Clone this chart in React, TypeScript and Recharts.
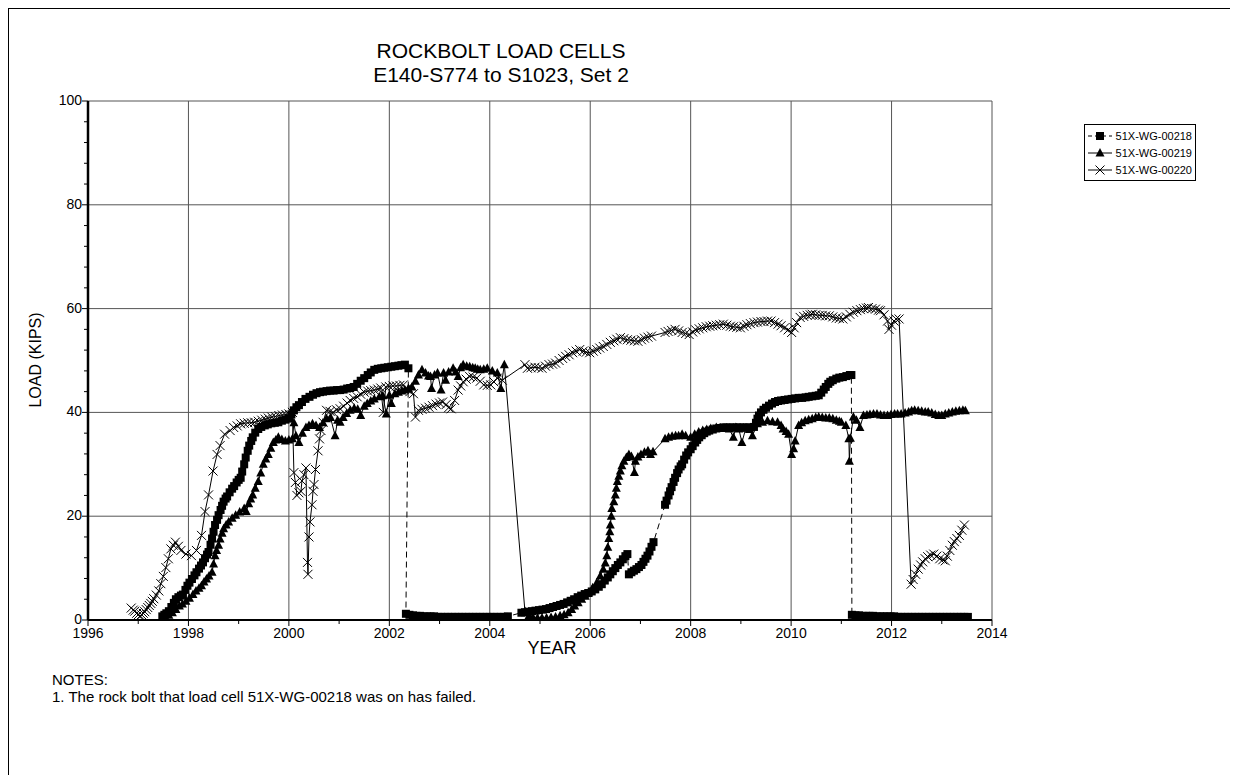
import React from 'react';
import {
    LineChart,
    Line,
    XAxis,
    YAxis,
    CartesianGrid
} from 'recharts';

const FONT = '"Liberation Sans", Arial, Helvetica, sans-serif';

const TITLE_LINES = ['ROCKBOLT LOAD CELLS', 'E140-S774 to S1023, Set 2'];
const NOTES = ['NOTES:', '1.  The rock bolt that load cell 51X-WG-00218 was on has failed.'];
const SERIES_NAMES = ['51X-WG-00218', '51X-WG-00219', '51X-WG-00220'];

// axis ticks: every year / every 4 kips, labels only on the major ones
const YEAR_TICKS = [1996, 1997, 1998, 1999, 2000, 2001, 2002, 2003, 2004, 2005,
    2006, 2007, 2008, 2009, 2010, 2011, 2012, 2013, 2014];
const LOAD_TICKS = [0, 4, 8, 12, 16, 20, 24, 28, 32, 36, 40, 44, 48, 52, 56, 60,
    64, 68, 72, 76, 80, 84, 88, 92, 96, 100];
const GRID_YEARS = [1998, 2000, 2002, 2004, 2006, 2008, 2010, 2012, 2014];
const GRID_LOADS = [20, 40, 60, 80, 100];

// [year, load kips]
const LOAD_218: [number, number][] = [
    [1997.48, 0.7], [1997.52, 1.0], [1997.56, 1.3], [1997.61, 1.7], [1997.66, 2.5], [1997.71, 3.3],
    [1997.75, 4.0], [1997.80, 4.4], [1997.85, 4.7], [1997.89, 4.9], [1997.94, 5.8], [1997.98, 6.6],
    [1998.02, 7.2], [1998.07, 7.9], [1998.12, 8.6], [1998.16, 9.2], [1998.21, 9.9], [1998.25, 10.5],
    [1998.29, 11.1], [1998.33, 11.9], [1998.37, 12.6], [1998.40, 13.1], [1998.44, 14.5], [1998.47, 15.7],
    [1998.50, 17.0], [1998.53, 18.3], [1998.57, 19.3], [1998.60, 20.2], [1998.64, 21.2], [1998.67, 22.0],
    [1998.70, 22.8], [1998.74, 23.4], [1998.77, 23.8], [1998.82, 24.6], [1998.87, 25.3], [1998.91, 25.8],
    [1998.96, 26.5], [1999.00, 27.0], [1999.04, 27.4], [1999.07, 28.6], [1999.11, 30.0], [1999.14, 31.3],
    [1999.18, 32.6], [1999.21, 33.6], [1999.25, 34.5], [1999.28, 35.2], [1999.33, 36.1], [1999.39, 36.8],
    [1999.45, 37.2], [1999.52, 37.5], [1999.58, 37.7], [1999.65, 37.9], [1999.72, 38.0], [1999.79, 38.1],
    [1999.86, 38.4], [1999.93, 38.6], [2000.00, 38.8], [2000.05, 39.6], [2000.10, 40.4], [2000.15, 41.0],
    [2000.20, 41.4], [2000.26, 42.0], [2000.33, 42.6], [2000.41, 43.0], [2000.48, 43.4], [2000.55, 43.7],
    [2000.62, 43.9], [2000.68, 44.0], [2000.75, 44.1], [2000.82, 44.2], [2000.89, 44.2], [2000.96, 44.3],
    [2001.02, 44.3], [2001.09, 44.4], [2001.16, 44.6], [2001.22, 44.7], [2001.29, 44.9], [2001.36, 45.5],
    [2001.43, 46.1], [2001.50, 46.6], [2001.57, 47.2], [2001.63, 47.7], [2001.70, 48.2], [2001.77, 48.4],
    [2001.84, 48.5], [2001.90, 48.6], [2001.97, 48.7], [2002.04, 48.8], [2002.11, 48.9], [2002.18, 49.0],
    [2002.24, 49.1], [2002.31, 49.2], [2002.38, 48.5],
    [2002.33, 1.2], [2002.40, 1.0], [2002.47, 0.9], [2002.54, 0.8], [2002.61, 0.8], [2002.68, 0.7],
    [2002.75, 0.7], [2002.82, 0.7], [2002.89, 0.7], [2002.96, 0.6], [2003.03, 0.6], [2003.10, 0.6],
    [2003.17, 0.6], [2003.24, 0.6], [2003.31, 0.6], [2003.38, 0.6], [2003.45, 0.6], [2003.52, 0.6],
    [2003.59, 0.6], [2003.66, 0.6], [2003.73, 0.6], [2003.80, 0.6], [2003.87, 0.6], [2003.94, 0.6],
    [2004.01, 0.6], [2004.08, 0.6], [2004.15, 0.6], [2004.22, 0.6], [2004.29, 0.6], [2004.36, 0.7],
    [2004.63, 1.4], [2004.70, 1.5], [2004.77, 1.6], [2004.84, 1.7], [2004.91, 1.8], [2004.98, 1.9],
    [2005.05, 2.0], [2005.12, 2.1], [2005.19, 2.3], [2005.26, 2.5], [2005.33, 2.7], [2005.40, 2.9],
    [2005.47, 3.1], [2005.54, 3.4], [2005.61, 3.7], [2005.68, 4.0], [2005.75, 4.4], [2005.82, 4.7],
    [2005.89, 5.0], [2005.96, 5.2], [2006.03, 5.5], [2006.10, 5.9], [2006.17, 6.4], [2006.23, 6.9],
    [2006.29, 7.6], [2006.35, 8.2], [2006.40, 8.8], [2006.45, 9.4], [2006.50, 10.0], [2006.55, 10.6],
    [2006.60, 11.1], [2006.65, 11.7], [2006.70, 12.3], [2006.74, 12.7],
    [2006.77, 8.8], [2006.82, 9.2], [2006.87, 9.5], [2006.92, 9.8], [2006.97, 10.2], [2007.02, 10.6],
    [2007.06, 11.2], [2007.10, 11.8], [2007.14, 12.4], [2007.18, 13.2], [2007.22, 14.1], [2007.26, 15.0],
    [2007.49, 22.2], [2007.52, 23.0], [2007.56, 24.0], [2007.59, 24.8], [2007.62, 25.6], [2007.66, 26.6],
    [2007.69, 27.4], [2007.73, 28.3], [2007.76, 29.0], [2007.80, 29.6], [2007.83, 30.0], [2007.87, 30.9],
    [2007.91, 31.7], [2007.95, 32.3], [2008.00, 32.9], [2008.04, 33.5], [2008.09, 34.2], [2008.13, 34.7],
    [2008.17, 35.2], [2008.22, 35.6], [2008.27, 36.0], [2008.32, 36.3], [2008.37, 36.5], [2008.44, 36.7],
    [2008.51, 36.9], [2008.58, 37.0], [2008.65, 37.1], [2008.71, 37.1], [2008.78, 37.1], [2008.85, 37.1],
    [2008.92, 37.1], [2008.98, 37.1], [2009.05, 37.1], [2009.12, 37.1], [2009.19, 37.1], [2009.26, 37.2],
    [2009.30, 38.0], [2009.33, 38.8], [2009.36, 39.4], [2009.40, 40.0], [2009.45, 40.5], [2009.50, 40.9],
    [2009.56, 41.3], [2009.62, 41.7], [2009.68, 42.0], [2009.74, 42.2], [2009.80, 42.3], [2009.87, 42.4],
    [2009.94, 42.5], [2010.01, 42.6], [2010.08, 42.7], [2010.15, 42.8], [2010.22, 42.8], [2010.29, 42.9],
    [2010.35, 43.0], [2010.42, 43.1], [2010.49, 43.2], [2010.55, 43.3], [2010.60, 43.8], [2010.65, 44.4],
    [2010.69, 44.9], [2010.74, 45.5], [2010.78, 45.9], [2010.83, 46.2], [2010.90, 46.5], [2010.96, 46.7],
    [2011.03, 46.8], [2011.10, 47.0], [2011.17, 47.2], [2011.20, 47.2],
    [2011.21, 1.0], [2011.28, 0.9], [2011.35, 0.9], [2011.42, 0.8], [2011.49, 0.8], [2011.56, 0.8],
    [2011.63, 0.8], [2011.70, 0.7], [2011.77, 0.7], [2011.84, 0.7], [2011.91, 0.7], [2011.98, 0.7],
    [2012.05, 0.7], [2012.12, 0.6], [2012.19, 0.6], [2012.26, 0.6], [2012.33, 0.6], [2012.40, 0.6],
    [2012.47, 0.6], [2012.54, 0.6], [2012.61, 0.6], [2012.68, 0.6], [2012.75, 0.6], [2012.82, 0.6],
    [2012.89, 0.6], [2012.96, 0.6], [2013.03, 0.6], [2013.10, 0.6], [2013.17, 0.6], [2013.24, 0.6],
    [2013.31, 0.6], [2013.38, 0.6], [2013.45, 0.6], [2013.52, 0.6]
];

const LOAD_219: [number, number][] = [
    [1997.55, 0.4], [1997.61, 0.9], [1997.68, 1.4], [1997.75, 2.0], [1997.82, 2.7], [1997.88, 3.1],
    [1997.95, 3.6], [1998.02, 4.2], [1998.09, 4.9], [1998.15, 5.6], [1998.21, 6.1], [1998.26, 6.6],
    [1998.31, 7.3], [1998.36, 7.9], [1998.41, 8.5], [1998.47, 9.2], [1998.50, 10.8], [1998.53, 12.4],
    [1998.56, 13.4], [1998.60, 14.4], [1998.63, 15.6], [1998.67, 16.7], [1998.70, 17.6], [1998.75, 18.3],
    [1998.80, 18.9], [1998.87, 19.6], [1998.94, 20.2], [1999.02, 20.8], [1999.11, 21.5], [1999.15, 20.9],
    [1999.20, 22.4], [1999.24, 23.3], [1999.28, 24.1], [1999.33, 25.4], [1999.39, 26.7], [1999.44, 28.3],
    [1999.49, 30.0], [1999.54, 31.0], [1999.59, 31.9], [1999.64, 33.1], [1999.69, 34.2], [1999.74, 34.7],
    [1999.79, 35.2], [1999.86, 34.8], [1999.93, 34.5], [2000.00, 34.7], [2000.07, 34.9], [2000.10, 38.0],
    [2000.14, 35.5], [2000.20, 34.2], [2000.27, 36.0], [2000.34, 37.1], [2000.40, 37.5], [2000.47, 37.8],
    [2000.54, 37.5], [2000.61, 37.1], [2000.68, 38.0], [2000.75, 38.8], [2000.83, 39.0], [2000.92, 35.5],
    [2000.97, 38.5], [2001.02, 38.1], [2001.08, 39.0], [2001.15, 39.8], [2001.22, 40.4], [2001.30, 40.8],
    [2001.37, 40.6], [2001.43, 39.4], [2001.50, 41.2], [2001.56, 41.7], [2001.63, 42.2], [2001.70, 42.6],
    [2001.80, 43.0], [2001.87, 43.2], [2001.94, 39.7], [2002.00, 43.3], [2002.04, 41.7], [2002.11, 43.6],
    [2002.18, 43.9], [2002.25, 44.1], [2002.31, 44.3], [2002.38, 44.6], [2002.45, 44.9], [2002.52, 46.0],
    [2002.58, 47.2], [2002.65, 48.2], [2002.72, 47.6], [2002.78, 47.0], [2002.82, 46.9], [2002.84, 44.6],
    [2002.90, 47.2], [2002.96, 47.6], [2003.03, 44.3], [2003.08, 47.6], [2003.12, 46.2], [2003.18, 47.8],
    [2003.27, 48.5], [2003.32, 47.8], [2003.37, 46.9], [2003.42, 48.6], [2003.47, 49.2], [2003.54, 48.9],
    [2003.60, 48.8], [2003.66, 48.6], [2003.71, 48.5], [2003.76, 48.3], [2003.81, 48.2], [2003.88, 48.3],
    [2003.95, 48.5], [2004.05, 48.0], [2004.15, 47.6], [2004.22, 44.6], [2004.29, 49.2],
    [2004.70, 1.7], [2004.78, 0.8], [2004.86, 0.5], [2004.95, 0.4], [2005.04, 0.4], [2005.13, 0.4],
    [2005.22, 0.5], [2005.31, 0.6], [2005.40, 0.8], [2005.48, 1.0], [2005.56, 1.4], [2005.63, 2.0],
    [2005.69, 2.7], [2005.76, 3.3], [2005.83, 4.0], [2005.90, 4.6], [2005.97, 5.2], [2006.05, 6.2],
    [2006.13, 7.2], [2006.20, 8.5], [2006.26, 9.8], [2006.30, 11.0], [2006.33, 12.4], [2006.35, 14.0],
    [2006.37, 15.7], [2006.39, 17.0], [2006.40, 18.3], [2006.42, 20.0], [2006.43, 21.5], [2006.47, 22.8],
    [2006.50, 24.1], [2006.52, 25.4], [2006.54, 26.7], [2006.57, 27.7], [2006.60, 28.7], [2006.63, 29.7],
    [2006.67, 30.6], [2006.72, 31.3], [2006.77, 31.9], [2006.82, 31.5], [2006.88, 28.4], [2006.90, 30.6],
    [2006.95, 31.4], [2007.01, 31.9], [2007.08, 32.3], [2007.15, 32.6], [2007.20, 31.9], [2007.25, 32.4],
    [2007.49, 34.9], [2007.56, 35.2], [2007.63, 35.4], [2007.70, 35.5], [2007.76, 35.5], [2007.83, 35.8],
    [2007.90, 35.5], [2008.00, 35.2], [2008.08, 35.8], [2008.16, 36.2], [2008.24, 36.5], [2008.32, 36.7],
    [2008.40, 36.9], [2008.51, 37.1], [2008.60, 37.0], [2008.68, 36.9], [2008.77, 36.8], [2008.85, 35.2],
    [2008.90, 37.1], [2008.96, 36.8], [2009.02, 34.2], [2009.10, 37.0], [2009.17, 36.7], [2009.23, 35.5],
    [2009.33, 37.8], [2009.43, 38.1], [2009.53, 38.4], [2009.63, 38.2], [2009.73, 38.1], [2009.80, 37.5],
    [2009.84, 36.8], [2009.90, 36.3], [2009.95, 35.8], [2010.01, 31.9], [2010.05, 33.0], [2010.08, 34.5],
    [2010.15, 37.5], [2010.21, 38.0], [2010.28, 38.4], [2010.35, 38.6], [2010.42, 38.8], [2010.49, 39.0],
    [2010.55, 39.1], [2010.62, 39.0], [2010.69, 38.9], [2010.76, 38.9], [2010.83, 38.8], [2010.90, 38.5],
    [2010.96, 38.3], [2011.00, 38.1], [2011.09, 37.5], [2011.15, 34.9], [2011.16, 30.6], [2011.18, 35.0],
    [2011.24, 39.1], [2011.30, 38.5], [2011.37, 37.1], [2011.44, 39.4], [2011.51, 39.5], [2011.57, 39.6],
    [2011.64, 39.7], [2011.71, 39.7], [2011.78, 39.5], [2011.85, 39.4], [2011.92, 39.4], [2011.99, 39.6],
    [2012.06, 39.7], [2012.12, 39.7], [2012.19, 39.7], [2012.27, 39.9], [2012.34, 40.1], [2012.40, 40.3],
    [2012.46, 40.4], [2012.53, 40.3], [2012.60, 40.2], [2012.67, 40.1], [2012.73, 40.1], [2012.80, 39.9],
    [2012.87, 39.6], [2012.94, 39.4], [2013.00, 39.4], [2013.07, 39.7], [2013.14, 39.9], [2013.21, 40.1],
    [2013.28, 40.2], [2013.35, 40.3], [2013.42, 40.4], [2013.47, 40.3]
];

const LOAD_220: [number, number][] = [
    [1996.86, 2.3], [1996.90, 1.9], [1996.93, 1.7], [1996.97, 1.3], [1997.00, 1.0], [1997.04, 0.8],
    [1997.07, 1.0], [1997.10, 1.3], [1997.13, 1.6], [1997.16, 2.0], [1997.19, 2.4], [1997.22, 2.8],
    [1997.25, 3.2], [1997.28, 3.6], [1997.31, 4.1], [1997.36, 4.8], [1997.41, 5.6], [1997.45, 7.0],
    [1997.50, 8.4], [1997.55, 10.1], [1997.60, 11.8], [1997.65, 13.7], [1997.70, 14.4], [1997.74, 15.0],
    [1997.80, 14.2], [1997.85, 13.4], [1997.95, 12.7], [1998.06, 12.4], [1998.16, 13.4], [1998.26, 16.3],
    [1998.33, 20.9], [1998.40, 24.1], [1998.49, 28.7], [1998.57, 31.9], [1998.63, 33.6], [1998.72, 35.8],
    [1998.83, 36.5], [1998.90, 37.1], [1998.97, 37.4], [1999.04, 37.8], [1999.11, 37.9], [1999.18, 38.0],
    [1999.25, 38.0], [1999.32, 38.1], [1999.39, 38.3], [1999.46, 38.5], [1999.53, 38.7], [1999.59, 38.9],
    [1999.66, 39.1], [1999.73, 39.2], [1999.80, 39.4], [1999.87, 39.5], [1999.94, 39.6], [2000.00, 39.7],
    [2000.07, 40.0], [2000.10, 28.4], [2000.13, 26.5], [2000.16, 24.0], [2000.20, 24.5], [2000.24, 24.8],
    [2000.26, 26.8], [2000.30, 28.0], [2000.34, 29.3], [2000.37, 11.1], [2000.38, 8.8], [2000.40, 16.0],
    [2000.42, 18.9], [2000.46, 22.2], [2000.48, 24.8], [2000.50, 26.1], [2000.53, 29.0], [2000.58, 32.6],
    [2000.61, 34.9], [2000.64, 36.5], [2000.68, 38.1], [2000.75, 40.4], [2000.82, 40.2], [2000.88, 40.0],
    [2000.95, 40.5], [2001.02, 40.7], [2001.09, 41.2], [2001.16, 41.8], [2001.22, 42.3], [2001.29, 42.7],
    [2001.36, 43.0], [2001.43, 43.5], [2001.50, 43.9], [2001.57, 44.1], [2001.63, 44.2], [2001.70, 44.3],
    [2001.77, 44.5], [2001.83, 44.7], [2001.88, 40.0], [2001.93, 44.9], [2002.00, 45.0], [2002.07, 45.1],
    [2002.14, 45.1], [2002.21, 45.2], [2002.28, 45.3], [2002.34, 44.5], [2002.41, 44.0], [2002.48, 43.6],
    [2002.52, 39.1], [2002.58, 40.4], [2002.65, 40.6], [2002.72, 40.8], [2002.79, 41.0], [2002.86, 41.3],
    [2002.93, 41.6], [2003.00, 41.8], [2003.06, 42.0], [2003.13, 41.5], [2003.18, 40.9], [2003.23, 40.7],
    [2003.30, 42.3], [2003.37, 44.3], [2003.42, 45.1], [2003.47, 45.9], [2003.53, 46.4], [2003.60, 46.9],
    [2003.67, 46.8], [2003.74, 46.6], [2003.81, 46.0], [2003.88, 45.3], [2003.95, 45.2], [2004.02, 45.3],
    [2004.08, 45.9], [2004.15, 46.6], [2004.25, 46.2],
    [2004.70, 49.2], [2004.75, 48.5], [2004.82, 48.6], [2004.90, 48.7], [2004.97, 48.6], [2005.04, 48.5],
    [2005.11, 48.9], [2005.18, 49.2], [2005.25, 49.3], [2005.31, 49.5], [2005.38, 50.0], [2005.45, 50.4],
    [2005.51, 50.8], [2005.58, 51.1], [2005.65, 51.5], [2005.72, 51.8], [2005.79, 52.1], [2005.86, 51.8],
    [2005.92, 51.6], [2005.99, 51.5], [2006.06, 51.8], [2006.13, 52.1], [2006.19, 52.4], [2006.26, 52.7],
    [2006.33, 53.1], [2006.40, 53.5], [2006.47, 53.8], [2006.53, 54.1], [2006.60, 54.4], [2006.67, 54.2],
    [2006.74, 54.0], [2006.81, 53.9], [2006.88, 53.8], [2006.95, 53.7], [2007.02, 54.0], [2007.08, 54.3],
    [2007.15, 54.5], [2007.22, 54.7], [2007.49, 55.4], [2007.55, 55.6], [2007.62, 55.8], [2007.69, 56.0],
    [2007.76, 55.7], [2007.83, 55.4], [2007.90, 55.2], [2007.97, 55.0], [2008.04, 55.5], [2008.10, 55.9],
    [2008.17, 56.1], [2008.24, 56.3], [2008.31, 56.5], [2008.38, 56.6], [2008.44, 56.7], [2008.51, 56.8],
    [2008.58, 56.9], [2008.65, 57.0], [2008.72, 56.8], [2008.79, 56.6], [2008.85, 56.5], [2008.92, 56.4],
    [2008.99, 56.3], [2009.06, 56.6], [2009.12, 56.9], [2009.19, 57.1], [2009.26, 57.3], [2009.33, 57.4],
    [2009.40, 57.5], [2009.46, 57.5], [2009.53, 57.6], [2009.60, 57.6], [2009.67, 57.3], [2009.74, 57.0],
    [2009.80, 56.7], [2009.87, 56.3], [2009.94, 55.9], [2010.01, 55.4], [2010.06, 56.3], [2010.11, 57.3],
    [2010.18, 58.3], [2010.25, 58.5], [2010.32, 58.7], [2010.38, 58.8], [2010.42, 58.9], [2010.49, 58.8],
    [2010.56, 58.7], [2010.62, 58.7], [2010.69, 58.6], [2010.76, 58.6], [2010.83, 58.4], [2010.90, 58.2],
    [2010.96, 58.1], [2011.03, 58.0], [2011.10, 58.4], [2011.17, 58.9], [2011.24, 59.3], [2011.31, 59.6],
    [2011.38, 59.8], [2011.44, 60.0], [2011.50, 60.1], [2011.54, 60.2], [2011.61, 60.0], [2011.68, 59.9],
    [2011.74, 59.7], [2011.78, 59.6], [2011.85, 58.8], [2011.92, 57.6], [2011.95, 56.0], [2012.00, 56.8],
    [2012.05, 57.6], [2012.09, 58.0], [2012.15, 58.0],
    [2012.39, 6.9], [2012.43, 7.8], [2012.48, 8.8], [2012.53, 9.8], [2012.58, 10.6], [2012.62, 11.2],
    [2012.67, 11.8], [2012.72, 12.2], [2012.78, 12.5], [2012.84, 12.7], [2012.90, 12.3], [2012.96, 11.8],
    [2013.02, 11.6], [2013.07, 11.4], [2013.11, 12.3], [2013.16, 13.4], [2013.21, 14.4], [2013.25, 15.1],
    [2013.30, 15.7], [2013.35, 16.3], [2013.40, 17.3], [2013.45, 18.3]
];

const toRows = (pts: [number, number][]) => pts.map(([year, load]) => ({ year, load }));

// markers
const SquareDot = (p: any) => (
    <rect key={`s${p.index}`} x={p.cx - 4} y={p.cy - 4} width={8} height={8} fill="#000" />
);
const TriangleDot = (p: any) => (
    <polygon key={`t${p.index}`}
        points={`${p.cx},${p.cy - 5} ${p.cx - 4.5},${p.cy + 3.5} ${p.cx + 4.5},${p.cy + 3.5}`}
        fill="#000" />
);
const CrossDot = (p: any) => (
    <path key={`x${p.index}`}
        d={`M${p.cx - 4.5},${p.cy - 4.5}L${p.cx + 4.5},${p.cy + 4.5}M${p.cx - 4.5},${p.cy + 4.5}L${p.cx + 4.5},${p.cy - 4.5}`}
        stroke="#000" strokeWidth={1} fill="none" />
);

const YearTick = (props: any) => {
    const { x, y, payload } = props;
    const major = payload.value % 2 === 0;
    return (
        <g>
            <line x1={x} y1={y} x2={x} y2={y + (major ? 6 : 4)} stroke="#000" />
            {major && (
                <text x={x} y={y + 18} textAnchor="middle" fontSize={14} fontFamily={FONT} fill="#000">
                    {payload.value}
                </text>
            )}
        </g>
    );
};

const LoadTick = (props: any) => {
    const { x, y, payload } = props;
    const major = payload.value % 20 === 0;
    return (
        <g>
            <line x1={x - (major ? 6 : 4)} y1={y} x2={x} y2={y} stroke="#000" />
            {major && (
                <text x={x - 6} y={y + 4} textAnchor="end" fontSize={14} fontFamily={FONT} fill="#000">
                    {payload.value}
                </text>
            )}
        </g>
    );
};

const LegendSymbol = ({ idx }: { idx: number }) => {
    const cx = 13;
    const cy = 8;
    return (
        <svg width={26} height={16} style={{ display: 'block' }}>
            <line x1={1} y1={cy} x2={25} y2={cy} stroke="#000" strokeDasharray={idx === 0 ? '4 3' : undefined} />
            {idx === 0 && <SquareDot cx={cx} cy={cy} index={0} />}
            {idx === 1 && <TriangleDot cx={cx} cy={cy} index={0} />}
            {idx === 2 && <CrossDot cx={cx} cy={cy} index={0} />}
        </svg>
    );
};

const SeriesLegend = () => (
    <div style={{
        position: 'absolute', right: 1238 - 1196, top: 124, border: '1px solid #000',
        background: '#fff', padding: '2px 3px 2px 2px', fontFamily: FONT
    }}>
        {SERIES_NAMES.map((name, i) => (
            <div key={name} style={{ display: 'flex', alignItems: 'center', height: 17, fontSize: 11 }}>
                <LegendSymbol idx={i} />
                <span style={{ marginLeft: 3, whiteSpace: 'nowrap' }}>{name}</span>
            </div>
        ))}
    </div>
);

export default function App() {
    return (
        <div style={{ position: 'relative', width: 1222, height: 767, overflow: 'hidden', fontFamily: FONT }}>
            <div style={{ position: 'absolute', left: -1, top: -1, width: 1300, height: 900, border: '2px solid #000' }} />
            <div style={{ position: 'absolute', left: -8, top: -8, width: 1238, height: 783 }}>
                <LineChart width={1238} height={783} margin={{ top: 101, right: 246, bottom: 133, left: 28 }}>
                    <CartesianGrid horizontalValues={GRID_LOADS} verticalValues={GRID_YEARS} stroke="#555" />
                    <XAxis
                        dataKey="year"
                        type="number"
                        domain={[1996, 2014]}
                        ticks={YEAR_TICKS}
                        interval={0}
                        allowDataOverflow
                        height={30}
                        tickSize={0}
                        tickMargin={0}
                        tickLine={false}
                        tick={<YearTick />}
                        axisLine={{ stroke: '#000', strokeWidth: 2 }}
                    />
                    <YAxis
                        type="number"
                        domain={[0, 100]}
                        ticks={LOAD_TICKS}
                        interval={0}
                        allowDataOverflow
                        width={60}
                        tickSize={0}
                        tickMargin={0}
                        tickLine={false}
                        tick={<LoadTick />}
                        axisLine={{ stroke: '#000', strokeWidth: 2.5 }}
                    />
                    <Line data={toRows(LOAD_218)} dataKey="load" name={SERIES_NAMES[0]} type="linear"
                        stroke="#000" strokeWidth={1} strokeDasharray="6 4" dot={SquareDot}
                        isAnimationActive={false} />
                    <Line data={toRows(LOAD_219)} dataKey="load" name={SERIES_NAMES[1]} type="linear"
                        stroke="#000" strokeWidth={1} dot={TriangleDot} isAnimationActive={false} />
                    <Line data={toRows(LOAD_220)} dataKey="load" name={SERIES_NAMES[2]} type="linear"
                        stroke="#000" strokeWidth={1} dot={CrossDot} isAnimationActive={false} />
                </LineChart>
                <svg width={1238} height={783} style={{ position: 'absolute', left: 0, top: 0, pointerEvents: 'none' }}
                    fontFamily={FONT} fill="#000">
                    <text x={501} y={58} fontSize={21} textAnchor="middle">{TITLE_LINES[0]}</text>
                    <text x={501} y={82} fontSize={21} textAnchor="middle">{TITLE_LINES[1]}</text>
                    <text x={552} y={654} fontSize={18} textAnchor="middle">YEAR</text>
                    <text x={41} y={360} fontSize={16} textAnchor="middle" transform="rotate(-90 41 360)">LOAD (KIPS)</text>
                    <text x={52} y={685} fontSize={15}>{NOTES[0]}</text>
                    <text x={52} y={702} fontSize={15}>{NOTES[1]}</text>
                </svg>
                <SeriesLegend />
            </div>
        </div>
    );
}
